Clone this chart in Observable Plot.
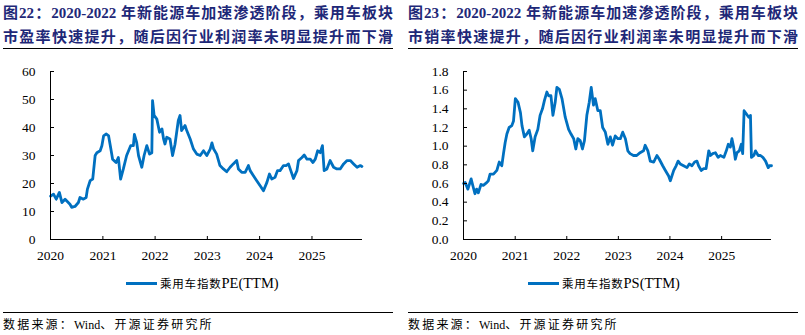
<!DOCTYPE html>
<html><head><meta charset="utf-8">
<script src="https://cdn.jsdelivr.net/npm/d3@7"></script>
<script src="https://cdn.jsdelivr.net/npm/@observablehq/plot@0.6"></script>
<style>
body{margin:0;background:#fff;width:805px;height:335px;position:relative;overflow:hidden;font-family:"Liberation Serif","Noto Sans CJK SC",serif;}
.panel{position:absolute;top:0;width:400px;height:335px;}
.title{position:absolute;left:3px;top:1px;width:390px;color:#1e2878;font-weight:bold;font-size:15px;line-height:24px;}
.title div{text-align:justify;text-align-last:justify;white-space:nowrap;}
.rule{position:absolute;left:3px;width:390px;height:1px;background:#000;}
.chart{position:absolute;left:0;top:55px;}
.legline{position:absolute;height:3px;background:#0070C0;}
.legtext{position:absolute;white-space:nowrap;line-height:16px;color:#000;}
.cjk{font-family:"Noto Sans CJK SC",sans-serif;}
.source{position:absolute;left:3px;top:316px;font-size:12px;line-height:16px;color:#000;white-space:nowrap;}
</style>
</head><body>
<div class="panel" id="p1" style="left:0">
  <div class="title"><div>图22：2020-2022 年新能源车加速渗透阶段，乘用车板块</div><div>市盈率快速提升，随后因行业利润率未明显提升而下滑</div></div>
  <div class="rule" style="top:48px"></div>
  <div class="chart" id="c1"></div>
  <div class="legline" style="left:126px;top:282px;width:31px"></div>
  <div class="legtext" style="left:160px;top:275px"><span class="cjk" style="font-size:11.5px;letter-spacing:0.8px">乘用车指数</span><span style="font-size:14.5px">PE(TTM)</span></div>
  <div class="rule" style="top:312px"></div>
  <div class="source"><span class="cjk" style="letter-spacing:2.2px">数据来源：</span>Wind<span class="cjk" style="letter-spacing:2.2px">、开源证券研究所</span></div>
</div>
<div class="panel" id="p2" style="left:405px">
  <div class="title"><div>图23：2020-2022 年新能源车加速渗透阶段，乘用车板块</div><div>市销率快速提升，随后因行业利润率未明显提升而下滑</div></div>
  <div class="rule" style="top:48px"></div>
  <div class="chart" id="c2"></div>
  <div class="legline" style="left:123px;top:282px;width:31px"></div>
  <div class="legtext" style="left:157px;top:275px"><span class="cjk" style="font-size:11.5px;letter-spacing:0.8px">乘用车指数</span><span style="font-size:14.5px">PS(TTM)</span></div>
  <div class="rule" style="top:312px"></div>
  <div class="source"><span class="cjk" style="letter-spacing:2.2px">数据来源：</span>Wind<span class="cjk" style="letter-spacing:2.2px">、开源证券研究所</span></div>
</div>
<script>
const xStart = "2020-01-01";
const xEnd = "2025-12-20";
const xTicks = ["2020-01-01","2021-01-01","2022-01-01","2023-01-01","2024-01-01","2025-01-01"];
const peTicks = [0,10,20,30,40,50,60];
const psTicks = [0,0.2,0.4,0.6,0.8,1.0,1.2,1.4,1.6,1.8];

const peDates = ["2020-01-02","2020-01-22","2020-02-10","2020-03-03","2020-03-21","2020-04-12","2020-05-16","2020-05-28","2020-06-20","2020-07-14","2020-07-25","2020-08-18","2020-09-06","2020-09-15","2020-10-04","2020-10-22","2020-11-08","2020-11-20","2020-12-13","2020-12-25","2021-01-06","2021-01-25","2021-02-10","2021-02-22","2021-03-10","2021-04-03","2021-04-19","2021-05-05","2021-05-24","2021-06-16","2021-07-14","2021-08-02","2021-08-09","2021-08-25","2021-09-07","2021-09-30","2021-10-16","2021-11-04","2021-11-23","2021-12-09","2021-12-14","2021-12-25","2022-01-13","2022-02-01","2022-02-18","2022-03-01","2022-03-11","2022-03-23","2022-04-15","2022-05-03","2022-05-20","2022-06-12","2022-06-24","2022-07-05","2022-07-29","2022-08-10","2022-09-03","2022-09-26","2022-10-19","2022-11-12","2022-12-05","2022-12-28","2023-01-21","2023-02-02","2023-02-14","2023-03-07","2023-03-30","2023-04-23","2023-05-16","2023-06-09","2023-07-01","2023-07-25","2023-08-06","2023-08-29","2023-09-22","2023-10-15","2023-10-27","2023-11-19","2023-12-12","2024-01-05","2024-01-28","2024-02-21","2024-03-10","2024-03-26","2024-04-18","2024-05-05","2024-05-23","2024-06-16","2024-07-04","2024-07-21","2024-08-06","2024-08-25","2024-09-18","2024-09-29","2024-10-23","2024-11-08","2024-11-27","2024-12-20","2025-01-08","2025-01-24","2025-02-10","2025-02-28","2025-03-15","2025-03-27","2025-04-15","2025-05-08","2025-06-01","2025-06-24","2025-07-17","2025-08-10","2025-09-03","2025-09-26","2025-10-19","2025-11-12","2025-12-05","2025-12-16"];
const peValues = [15.5,16.2,14.4,16.8,13.2,14.4,12.6,11.5,11.8,13.2,15,14.4,15,18,21,21.6,30,31,31.7,33.5,37,37.7,37,33.5,28.7,27.5,29.3,21.6,25.2,30,33.5,33.5,37.5,34.7,30,25.8,30,33.5,30.5,31,49.6,44.3,43,38.3,39.5,35.9,34.1,36.5,35.9,30,34,42.5,44.3,38.9,40.7,38.9,35.9,32.3,30.5,30,31.7,30,32.3,34.5,32.3,30.5,26.4,25.2,24.2,25.8,27,28.2,25.2,24,24,26.4,24.6,22.8,21,19.2,17.4,20.4,23.4,21.6,22.2,24.6,24.6,26.4,26.4,27,24.6,21.8,24.6,28.2,29.3,30.2,28.7,28.7,27.5,28.7,31.7,31,33.5,24.6,25.2,28.2,25.8,25.2,25.2,27,28.2,28.2,27,25.8,26.4,26.1];

const psDates = ["2020-01-02","2020-01-13","2020-02-01","2020-02-24","2020-03-10","2020-03-22","2020-04-03","2020-04-15","2020-05-04","2020-05-20","2020-06-13","2020-06-25","2020-07-07","2020-07-31","2020-08-24","2020-09-10","2020-09-28","2020-10-10","2020-10-22","2020-11-03","2020-11-19","2020-12-08","2020-12-20","2021-01-02","2021-01-21","2021-02-07","2021-02-18","2021-03-07","2021-03-24","2021-04-10","2021-04-24","2021-05-05","2021-05-22","2021-06-10","2021-06-26","2021-07-13","2021-07-27","2021-08-13","2021-08-25","2021-09-11","2021-09-25","2021-10-11","2021-10-23","2021-11-09","2021-11-28","2021-12-21","2022-01-14","2022-01-31","2022-02-19","2022-03-06","2022-03-20","2022-04-06","2022-04-22","2022-05-06","2022-05-23","2022-06-09","2022-06-23","2022-07-09","2022-07-21","2022-08-09","2022-08-26","2022-09-12","2022-10-01","2022-10-19","2022-11-05","2022-11-21","2022-12-10","2022-12-29","2023-01-15","2023-02-01","2023-02-20","2023-03-09","2023-03-25","2023-04-18","2023-05-11","2023-06-04","2023-06-28","2023-07-10","2023-07-29","2023-08-15","2023-09-08","2023-10-01","2023-10-18","2023-11-11","2023-11-30","2023-12-23","2024-01-04","2024-01-28","2024-02-14","2024-02-28","2024-03-14","2024-04-07","2024-05-01","2024-05-17","2024-06-05","2024-06-24","2024-07-10","2024-07-22","2024-08-10","2024-08-27","2024-09-13","2024-10-02","2024-10-14","2024-10-30","2024-11-18","2024-12-07","2024-12-23","2025-01-17","2025-02-03","2025-02-17","2025-03-04","2025-03-15","2025-03-27","2025-04-08","2025-04-20","2025-05-06","2025-05-20","2025-05-30","2025-06-09","2025-06-23","2025-07-12","2025-07-24","2025-07-31","2025-08-17","2025-08-29","2025-09-17","2025-10-03","2025-10-20","2025-11-08","2025-11-27","2025-12-06","2025-12-20"];
const psValues = [0.6,0.61,0.54,0.65,0.56,0.49,0.54,0.5,0.59,0.58,0.61,0.63,0.7,0.7,0.74,0.83,0.79,0.92,1.04,1.13,1.2,1.22,1.27,1.51,1.47,1.36,1.22,1.1,1.13,1.17,1.08,0.95,1.1,1.18,1.33,1.4,1.49,1.58,1.54,1.54,1.33,1.47,1.63,1.61,1.51,1.31,1.18,1.13,1.08,0.97,1.08,1.06,0.97,1.06,1.33,1.47,1.63,1.44,1.51,1.38,1.38,1.2,1.15,1.02,1.1,1.01,1.11,1.08,1.08,1.15,1.08,0.95,0.92,0.9,0.9,0.93,0.95,1.01,0.95,0.84,0.83,0.9,0.86,0.79,0.74,0.68,0.63,0.74,0.79,0.84,0.81,0.79,0.77,0.81,0.79,0.83,0.84,0.79,0.74,0.76,0.76,0.95,0.9,0.92,0.93,0.88,0.9,0.88,0.95,1.02,0.99,1.08,0.99,0.86,0.93,0.95,1.02,0.92,1.38,1.35,1.31,1.33,0.88,0.9,0.95,0.9,0.9,0.88,0.84,0.77,0.79,0.79];

function chart(dates, values, yTicks, fmt, marginLeft, marginRight) {
  const data = dates.map((d, i) => ({date: new Date(d), value: values[i]}));
  const yDomain = [yTicks[0], yTicks[yTicks.length - 1]];
  return Plot.plot({
    width: 400, height: 220,
    marginTop: 16, marginBottom: 36, marginLeft, marginRight,
    style: {fontFamily: '"Liberation Serif", serif', fontSize: "13.5px", color: "#000", background: "transparent"},
    x: {type: "utc", domain: [new Date(xStart), new Date(xEnd)]},
    y: {domain: yDomain},
    marks: [
      Plot.line(data, {x: "date", y: "value", stroke: "#0070C0", strokeWidth: 2.8}),
      Plot.ruleY([yDomain[0]], {stroke: "#000", strokeWidth: 1}),
      Plot.ruleX([new Date(xStart)], {stroke: "#000", strokeWidth: 1}),
      Plot.axisY(yTicks, {tickSize: 4, dx: 4, tickPadding: 15, tickFormat: fmt, label: null, fontSize: 13.5}),
      Plot.axisX(xTicks.map(d => new Date(d)), {tickSize: 3, dy: -3, tickPadding: 11, tickFormat: d3.utcFormat("%Y"), label: null, fontSize: 13.5})
    ]
  });
}
document.getElementById("c1").appendChild(chart(peDates, peValues, peTicks, d3.format("d"), 50, 38));
document.getElementById("c2").appendChild(chart(psDates, psValues, psTicks, d3.format(".1f"), 58, 34));
</script>
</body></html>
